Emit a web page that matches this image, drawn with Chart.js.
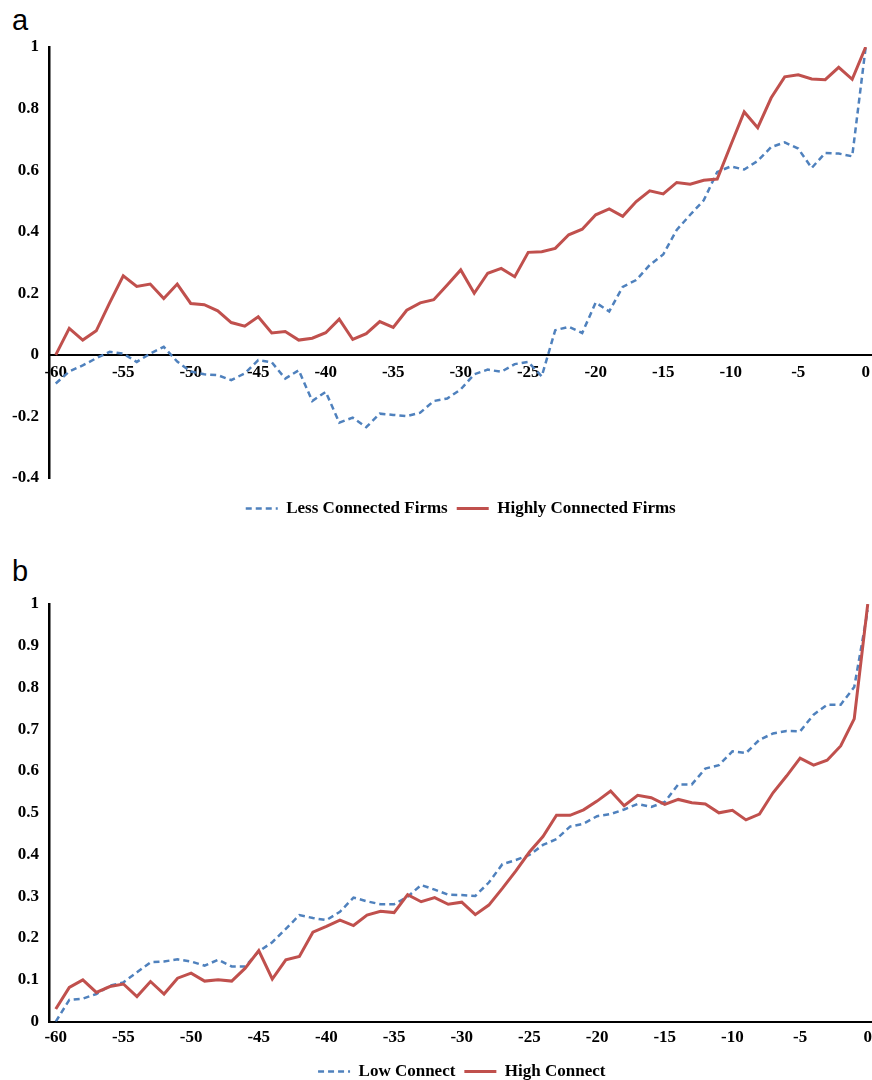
<!DOCTYPE html>
<html>
<head>
<meta charset="utf-8">
<script src="https://cdn.jsdelivr.net/npm/chart.js@4.4.1/dist/chart.umd.min.js"></script>
<style>
  body { margin: 0; background: #fff; width: 872px; height: 1080px; position: relative; overflow: hidden; }
  .tag { position: absolute; left: 12px; font-family: "Liberation Sans", Arial, sans-serif; font-size: 29px; line-height: 1; color: #000; }
  .box { position: absolute; left: 0; width: 878px; }
</style>
</head>
<body>
<div class="tag" style="top:6px">a</div>
<div class="box" style="top:0;height:527px"><canvas id="chartA"></canvas></div>
<div class="tag" style="top:557px">b</div>
<div class="box" style="top:557px;height:533px"><canvas id="chartB"></canvas></div>

<script>
// days relative to event (category axis)
const days = [-60,-59,-58,-57,-56,-55,-54,-53,-52,-51,-50,-49,-48,-47,-46,-45,-44,-43,-42,-41,
  -40,-39,-38,-37,-36,-35,-34,-33,-32,-31,-30,-29,-28,-27,-26,-25,-24,-23,-22,-21,
  -20,-19,-18,-17,-16,-15,-14,-13,-12,-11,-10,-9,-8,-7,-6,-5,-4,-3,-2,-1,0];

// panel a
const lessConnected = [-0.093,-0.054,-0.034,-0.011,0.010,0.004,-0.023,0.004,0.026,-0.022,
  -0.054,-0.063,-0.066,-0.082,-0.060,-0.017,-0.024,-0.077,-0.050,-0.150,
  -0.120,-0.220,-0.204,-0.235,-0.191,-0.195,-0.199,-0.188,-0.150,-0.142,
  -0.112,-0.063,-0.048,-0.055,-0.030,-0.023,-0.070,0.080,0.091,0.071,
  0.170,0.141,0.221,0.243,0.292,0.326,0.406,0.455,0.502,0.594,
  0.612,0.602,0.630,0.675,0.690,0.670,0.607,0.656,0.654,0.645,1.0];
const highlyConnected = [0.0,0.086,0.048,0.078,0.170,0.257,0.222,0.230,0.183,0.230,
  0.167,0.163,0.143,0.105,0.093,0.124,0.071,0.076,0.048,0.054,
  0.072,0.116,0.050,0.069,0.108,0.089,0.145,0.169,0.179,0.227,
  0.276,0.200,0.265,0.281,0.254,0.333,0.335,0.346,0.390,0.408,
  0.455,0.474,0.450,0.498,0.533,0.523,0.560,0.554,0.567,0.571,
  0.681,0.789,0.738,0.835,0.903,0.910,0.896,0.894,0.934,0.895,1.0];

// panel b
const lowConnect = [0.0,0.052,0.055,0.066,0.086,0.094,0.118,0.142,0.144,0.149,
  0.144,0.134,0.148,0.132,0.132,0.168,0.190,0.222,0.255,0.248,
  0.243,0.263,0.297,0.288,0.281,0.281,0.299,0.327,0.316,0.304,
  0.303,0.301,0.333,0.377,0.387,0.399,0.423,0.437,0.467,0.474,
  0.492,0.497,0.508,0.521,0.514,0.526,0.568,0.568,0.606,0.614,
  0.647,0.643,0.675,0.690,0.696,0.695,0.735,0.759,0.759,0.801,0.985];
const highConnect = [0.030,0.082,0.100,0.070,0.084,0.090,0.060,0.096,0.066,0.104,
  0.116,0.097,0.100,0.097,0.128,0.170,0.102,0.148,0.156,0.214,
  0.228,0.243,0.230,0.255,0.264,0.261,0.304,0.287,0.297,0.281,
  0.286,0.256,0.279,0.319,0.361,0.406,0.443,0.494,0.494,0.507,
  0.528,0.552,0.517,0.542,0.536,0.520,0.532,0.524,0.521,0.500,
  0.506,0.483,0.497,0.548,0.588,0.631,0.614,0.626,0.660,0.725,1.0];

const blue = '#4F81BD';
const red = '#C0504D';

Chart.defaults.font.family = '"Liberation Serif", "Times New Roman", serif';
Chart.defaults.font.size = 17;
Chart.defaults.font.weight = 'bold';
Chart.defaults.color = '#000';

// red drawn over blue (lower order = on top), legend kept in dataset order
function dashed(label, data) {
  return { label, data, order: 1, borderColor: blue, backgroundColor: blue, borderWidth: 2.5,
    borderDash: [6, 4], pointRadius: 0, tension: 0, fill: false };
}
function solid(label, data) {
  return { label, data, order: 0, borderColor: red, backgroundColor: red, borderWidth: 3,
    pointRadius: 0, tension: 0, fill: false };
}

function legendItems(chart) {
  return Chart.defaults.plugins.legend.labels.generateLabels(chart).map(item => {
    const ds = chart.data.datasets[item.datasetIndex];
    item.lineDash = ds.borderDash || [];
    item.lineWidth = ds.borderWidth;
    item.strokeStyle = ds.borderColor;
    return item;
  });
}

function makeChart(id, series, yMin, yMax, yStep, xPos, tickPad, gapBelow) {
  const scales = {
    x: {
      type: 'category',
      offset: true,
      position: xPos,
      grid: { display: false, drawTicks: false },
      border: { color: '#000', width: 2 },
      ticks: {
        autoSkip: false, maxRotation: 0, padding: tickPad,
        callback: function (v) {
          const l = this.getLabelForValue(v);
          return Number(l) % 5 === 0 ? String(l) : '';
        }
      }
    },
    y: {
      min: yMin, max: yMax,
      grid: { display: false, drawTicks: false },
      border: { color: '#000', width: 2.5 },
      ticks: { stepSize: yStep, padding: 10,
        callback: v => String(Math.round(v * 10) / 10) },
      afterFit: a => { a.width = 49; }
    }
  };
  if (gapBelow) {
    // empty strip between plot and legend when the x axis sits at zero
    scales.gap = {
      type: 'category', axis: 'x', position: 'bottom',
      grid: { display: false }, border: { display: false }, ticks: { display: false },
      afterFit: a => { a.height = gapBelow; }
    };
  }
  return new Chart(document.getElementById(id), {
    type: 'line',
    data: { labels: days, datasets: series },
    options: {
      responsive: true,
      maintainAspectRatio: false,
      animation: false,
      layout: { padding: { top: 47, right: 0, left: 0, bottom: 0 } },
      plugins: {
        tooltip: { enabled: false },
        legend: {
          position: 'bottom',
          fullSize: false,
          labels: { usePointStyle: true, pointStyle: 'line', pointStyleWidth: 32, padding: 9,
            font: { size: 17, weight: 'bold' },
            generateLabels: legendItems,
            sort: (a, b) => a.datasetIndex - b.datasetIndex }
        }
      },
      scales
    }
  });
}

makeChart('chartA', [dashed('Less Connected Firms', lessConnected), solid('Highly Connected Firms', highlyConnected)],
  -0.4, 1, 0.2, { y: 0 }, 8, 13);
makeChart('chartB', [dashed('Low Connect', lowConnect), solid('High Connect', highConnect)],
  0, 1, 0.1, 'bottom', 6, 0);
</script>
</body>
</html>
